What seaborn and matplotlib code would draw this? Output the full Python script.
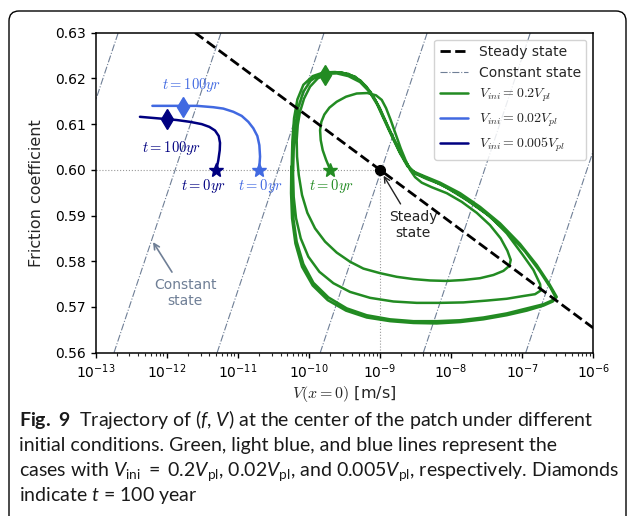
import numpy as np
import pandas as pd
import seaborn as sns
import matplotlib
matplotlib.use("Agg")
import matplotlib.pyplot as plt
from matplotlib.patches import FancyBboxPatch
from matplotlib.lines import Line2D
from matplotlib.transforms import IdentityTransform

# ---------------- data ----------------
V_pl = 1e-9
# steady-state line (log10 V, f)
ss_logV = [-11.60, -6.0]
ss_f = [0.63, 0.5654]
# constant-state lines: log10 V at f=0.56 and at f=0.63
const_logV_bottom = [-14.185, -12.74, -11.29, -9.84, -8.39, -6.95]
const_logV_top = [-12.68, -11.235, -9.785, -8.335, -6.885, -5.445]
const_f = [0.56, 0.63]

# V_ini = 0.2 V_pl trajectory (log10 V, f)
green_logV = [
    -9.699, -9.758, -9.805, -9.833, -9.842, -9.824, -9.782, -9.711, -9.608, -9.477,
    -9.327, -9.177, -9.055, -8.975, -8.914, -8.849, -8.774, -8.708, -8.642, -8.577,
    -8.506, -8.413, -8.272, -8.061, -7.850, -7.639, -7.452, -7.302, -7.208, -7.161,
    -7.180, -7.264, -7.405, -7.592, -7.827, -8.061, -8.295, -8.530, -8.764, -8.999,
    -9.233, -9.421, -9.608, -9.772, -9.913, -10.021, -10.096, -10.142, -10.166, -10.171,
    -10.156, -10.124, -10.067, -9.983, -9.875, -9.749,
    -9.608, -9.444, -9.280, -9.149, -9.036, -8.928, -8.820, -8.717, -8.614, -8.506,
    -8.342, -8.155, -7.920, -7.686, -7.452, -7.217, -7.006, -6.842, -6.748, -6.739,
    -6.819, -6.983, -7.217, -7.498, -7.827, -8.155, -8.483, -8.811, -9.139, -9.421,
    -9.655, -9.852, -10.007, -10.114, -10.180, -10.213, -10.222, -10.213, -10.189, -10.147,
    -10.077, -9.974, -9.852, -9.702,
    -9.538, -9.350, -9.196, -9.069, -8.952, -8.835, -8.717, -8.600, -8.483, -8.295,
    -8.061, -7.780, -7.498, -7.217, -6.959, -6.748, -6.598, -6.533, -6.584, -6.701,
    -6.936, -7.217, -7.545, -7.873, -8.202, -8.530, -8.858, -9.186, -9.467, -9.725,
    -9.936, -10.077, -10.171, -10.218, -10.236, -10.241, -10.232, -10.208, -10.161, -10.077,
    -9.946, -9.796,
    -9.631, -9.444, -9.271, -9.130, -9.008, -8.896, -8.774, -8.661, -8.553, -8.389,
    -8.155, -7.873, -7.592, -7.311, -7.030, -6.795, -6.617, -6.514, -6.570, -6.701,
    -6.936, -7.217, -7.545, -7.873, -8.202, -8.530, -8.858, -9.186, -9.477, -9.735,
    -9.946, -10.096, -10.189, -10.236, -10.250, -10.246]
green_f = [
    0.6000, 0.6022, 0.6043, 0.6065, 0.6087, 0.6105, 0.6121, 0.6136, 0.6149, 0.6160,
    0.6167, 0.6168, 0.6163, 0.6153, 0.6135, 0.6109, 0.6076, 0.6047, 0.6022, 0.6000,
    0.5984, 0.5972, 0.5962, 0.5949, 0.5930, 0.5906, 0.5879, 0.5850, 0.5823, 0.5803,
    0.5790, 0.5779, 0.5770, 0.5763, 0.5759, 0.5757, 0.5758, 0.5761, 0.5766, 0.5774,
    0.5784, 0.5799, 0.5819, 0.5843, 0.5872, 0.5906, 0.5945, 0.5989, 0.6029, 0.6065,
    0.6098, 0.6127, 0.6156, 0.6182, 0.6200, 0.6210,
    0.6211, 0.6205, 0.6192, 0.6171, 0.6142, 0.6105, 0.6069, 0.6036, 0.6008, 0.5992,
    0.5980, 0.5969, 0.5949, 0.5925, 0.5898, 0.5861, 0.5817, 0.5781, 0.5750, 0.5736,
    0.5728, 0.5724, 0.5718, 0.5714, 0.5710, 0.5709, 0.5709, 0.5712, 0.5720, 0.5733,
    0.5752, 0.5777, 0.5810, 0.5850, 0.5894, 0.5941, 0.5992, 0.6043, 0.6094, 0.6138,
    0.6171, 0.6195, 0.6208, 0.6213,
    0.6213, 0.6204, 0.6183, 0.6154, 0.6116, 0.6076, 0.6038, 0.6007, 0.5991, 0.5979,
    0.5961, 0.5934, 0.5903, 0.5865, 0.5821, 0.5777, 0.5741, 0.5722, 0.5714, 0.5706,
    0.5697, 0.5686, 0.5677, 0.5671, 0.5669, 0.5669, 0.5673, 0.5682, 0.5697, 0.5721,
    0.5753, 0.5794, 0.5843, 0.5894, 0.5949, 0.6007, 0.6062, 0.6113, 0.6154, 0.6186,
    0.6205, 0.6213,
    0.6214, 0.6210, 0.6195, 0.6170, 0.6137, 0.6098, 0.6058, 0.6023, 0.5998, 0.5987,
    0.5972, 0.5949, 0.5919, 0.5883, 0.5838, 0.5792, 0.5750, 0.5722, 0.5712, 0.5703,
    0.5692, 0.5682, 0.5673, 0.5667, 0.5664, 0.5665, 0.5669, 0.5677, 0.5692, 0.5715,
    0.5747, 0.5788, 0.5839, 0.5894, 0.5949, 0.6007]

# V_ini = 0.02 V_pl trajectory
lblue_logV = [-10.699, -10.686, -10.696, -10.724, -10.781, -10.851, -10.944, -11.062,
              -11.203, -11.343, -11.577, -11.765, -12.20]
lblue_f = [0.6000, 0.6029, 0.6054, 0.6074, 0.6091, 0.6105, 0.6118, 0.6127,
           0.6134, 0.6137, 0.6140, 0.6140, 0.6140]

# V_ini = 0.005 V_pl trajectory
dblue_logV = [-11.301, -11.273, -11.253, -11.249, -11.267, -11.319, -11.399, -11.506,
              -11.671, -11.858, -12.0, -12.375]
dblue_f = [0.6000, 0.6021, 0.6043, 0.6059, 0.6074, 0.6086, 0.6094, 0.6100,
           0.6105, 0.6109, 0.6111, 0.6116]

# markers: start (t=0) and t=100 yr
star_logV = {"green": -9.699, "lblue": -10.699, "dblue": -11.301}
star_f = 0.600
diam_logV = {"green": -9.772, "lblue": -11.765, "dblue": -12.0}
diam_f = {"green": 0.6207, "lblue": 0.6138, "dblue": 0.6111}

colors = {"green": "#228B22", "lblue": "#4169E1", "dblue": "#000080"}
labels = {"green": r"$V_{ini}=0.2V_{pl}$", "lblue": r"$V_{ini}=0.02V_{pl}$",
          "dblue": r"$V_{ini}=0.005V_{pl}$"}

# ---------------- style ----------------
sns.set_style("ticks")
plt.rcParams['font.family'] = ['DejaVu Sans']
plt.rcParams['mathtext.fontset'] = 'dejavusans'

cap_font = 'Lato'
plt.rcParams['mathtext.rm'] = cap_font
plt.rcParams['mathtext.it'] = cap_font + ':italic'
plt.rcParams['mathtext.bf'] = cap_font + ':bold'
plt.rcParams['mathtext.sf'] = cap_font

W, H = 627, 516
fig = plt.figure(figsize=(W / 100, H / 100), dpi=100)
ax = fig.add_axes([95.5 / W, 1 - 352.7 / H, (593.3 - 95.5) / W, (352.7 - 32.7) / H])

const_color = '#6f7f96'
for b, t in zip(const_logV_bottom, const_logV_top):
    ax.plot([10 ** b, 10 ** t], const_f, ls='-.', color=const_color, lw=0.8, zorder=1)

ax.plot([10 ** v for v in ss_logV], ss_f, ls='--', color='black', lw=2.0, zorder=4)

ax.plot([1e-13, 1e-9], [0.6, 0.6], ls=':', color='#999999', lw=0.8, zorder=1)
ax.plot([1e-9, 1e-9], [0.56, 0.6], ls=':', color='#999999', lw=0.8, zorder=1)

traj = {"green": (green_logV, green_f, 1.8), "lblue": (lblue_logV, lblue_f, 1.8),
        "dblue": (dblue_logV, dblue_f, 1.8)}
for key, (lv, ff, lw) in traj.items():
    df = pd.DataFrame({"V": [10 ** v for v in lv], "f": ff})
    sns.lineplot(data=df, x="V", y="f", sort=False, estimator=None, color=colors[key],
                 lw=lw, ax=ax, zorder=3)
    ax.plot(10 ** star_logV[key], star_f, marker='*', ms=10, color=colors[key], zorder=5,
            ls='none')
    ax.plot(10 ** diam_logV[key], diam_f[key], marker='d', ms=10, color=colors[key], zorder=5,
            ls='none')

ax.plot(1e-9, 0.6, 'o', color='black', ms=7, zorder=6)

ax.set_xscale('log')
ax.set_xlim(1e-13, 1e-6)
ax.set_ylim(0.56, 0.63)
ax.set_yticks(np.arange(0.56, 0.6301, 0.01))
ax.yaxis.set_major_formatter(matplotlib.ticker.FormatStrFormatter('%.2f'))
ax.tick_params(labelsize=10, colors='black', width=1)
ax.tick_params(which='minor', width=0.8)
for s in ax.spines.values():
    s.set_color('black')
    s.set_linewidth(1.1)
ax.set_xlabel(r"$V(x=0)$ [m/s]", fontsize=11.5, labelpad=2, math_fontfamily='cm')
ax.set_ylabel("Friction coefficient", fontsize=11.5, labelpad=8)

def T(logv, f, s, c):
    ax.text(10 ** logv, f, s, color=c, ha='center', va='center', fontsize=10.5,
            math_fontfamily='cm')

T(-11.647, 0.6186, r"$t=100yr$", colors["lblue"])
T(-11.928, 0.6047, r"$t=100yr$", colors["dblue"])
T(-11.484, 0.5965, r"$t=0yr$", colors["dblue"])
T(-10.686, 0.5965, r"$t=0yr$", colors["lblue"])
T(-9.692, 0.5965, r"$t=0yr$", colors["green"])

ax.annotate("Steady\nstate", xy=(1.05e-9, 0.5995), xytext=(10 ** -8.535, 0.5880),
            ha='center', va='center', fontsize=10, color='#222222', multialignment='center',
            arrowprops=dict(arrowstyle='->', color='#222222', lw=1.0, shrinkA=2, shrinkB=3))
ax.annotate("Constant\nstate", xy=(10 ** -12.191, 0.5842), xytext=(10 ** -11.741, 0.5731),
            ha='center', va='center', fontsize=10, color=const_color, multialignment='center',
            arrowprops=dict(arrowstyle='->', color=const_color, lw=1.2, shrinkA=2, shrinkB=0))

handles = [Line2D([], [], ls='--', color='black', lw=2.0),
           Line2D([], [], ls='-.', color=const_color, lw=0.8),
           Line2D([], [], color=colors["green"], lw=1.8),
           Line2D([], [], color=colors["lblue"], lw=1.8),
           Line2D([], [], color=colors["dblue"], lw=1.8)]
leg = ax.legend(handles, ["Steady state", "Constant state", labels["green"], labels["lblue"],
                          labels["dblue"]], loc='upper right', fontsize=10, frameon=True,
                framealpha=0.85, edgecolor='#cccccc', fancybox=True)
for t in leg.get_texts():
    t.set_math_fontfamily('cm')
leg.set_zorder(10)

cap_lines = [
    r"$\mathbf{Fig.\ 9}$  Trajectory of ($f$, $V$) at the center of the patch under different",
    r"initial conditions. Green, light blue, and blue lines represent the",
    r"cases with $V_{\mathrm{ini}}\ =\ 0.2V_{\mathrm{pl}}$, 0.02$V_{\mathrm{pl}}$, and 0.005$V_{\mathrm{pl}}$, respectively. Diamonds",
    r"indicate $t$ = 100 year",
]
base = [426, 451, 476, 501]
for s, y in zip(cap_lines, base):
    fig.text(19 / W, 1 - y / H, s, ha='left', va='baseline', fontsize=14, family=cap_font,
             math_fontfamily='custom', color='#1a1a1a')

box = FancyBboxPatch((9, -30), 617, H - 11 + 30, boxstyle="round,pad=0,rounding_size=10",
                     transform=IdentityTransform(), fc='none', ec='black', lw=1.0)
fig.add_artist(box)

fig.savefig("out.png", dpi=100)
